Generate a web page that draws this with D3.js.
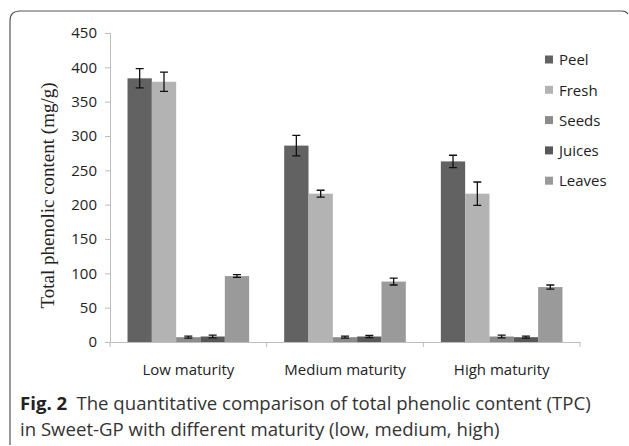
<!DOCTYPE html>
<html>
<head>
<meta charset="utf-8">
<script src="https://cdn.jsdelivr.net/npm/d3@7"></script>
<style>
  body { margin: 0; background: #fff; }
  svg { display: block; }
</style>
</head>
<body>
<svg width="629" height="446"></svg>
<script>
const categories = ["Low maturity", "Medium maturity", "High maturity"];
const seriesNames = ["Peel", "Fresh", "Seeds", "Juices", "Leaves"];
const peel = [384, 286, 263];
const fresh = [379, 216, 216];
const seeds = [7, 7, 8];
const juices = [8, 8, 7];
const leaves = [96, 88, 80];
const peelErr = [14, 15, 9];
const freshErr = [14, 5, 17];
const seedsErr = [1.5, 1.5, 2];
const juicesErr = [2, 1.5, 1.5];
const leavesErr = [2, 5, 3];
const yTicks = [0, 50, 100, 150, 200, 250, 300, 350, 400, 450];

const colors = ["#626262", "#b3b3b3", "#8b8b8b", "#585858", "#9a9a9a"];
const values = [peel, fresh, seeds, juices, leaves];
const errors = [peelErr, freshErr, seedsErr, juicesErr, leavesErr];

const svg = d3.select("svg");
const plotLeft = 110, plotRight = 580, plotTop = 33, plotBottom = 342;

// frame
svg.append("path")
  .attr("d", "M10,445 L10,21 Q10,11 20,11 L622,11 Q626,11 628,14")
  .attr("fill", "none")
  .attr("stroke", "#555")
  .attr("stroke-width", 1.2);

const x = d3.scaleBand().domain(categories).range([plotLeft, plotRight]);
const xInner = d3.scaleBand().domain(seriesNames)
  .range([0, x.bandwidth()]).paddingOuter(0.72).paddingInner(0);
const y = d3.scaleLinear().domain([0, 450]).range([plotBottom, plotTop]);

// y axis
const yAxis = svg.append("g")
  .attr("transform", `translate(${plotLeft},0)`)
  .call(d3.axisLeft(y).tickValues(yTicks).tickSize(5).tickPadding(8));
yAxis.select(".domain").attr("stroke", "#bdbdbd");
yAxis.selectAll(".tick line").attr("stroke", "#bdbdbd");
yAxis.selectAll("text")
  .attr("font-family", "Open Sans, sans-serif")
  .attr("font-size", 15)
  .attr("fill", "#222");

// x axis
const xAxis = svg.append("g")
  .attr("transform", `translate(0,${plotBottom})`)
  .call(d3.axisBottom(x).tickSize(0).tickPadding(22));
xAxis.select(".domain").attr("stroke", "#bdbdbd");
xAxis.selectAll("text")
  .attr("font-family", "Open Sans, sans-serif")
  .attr("font-size", 15)
  .attr("fill", "#222");
svg.append("g").selectAll("line")
  .data(categories.concat(["end"]))
  .join("line")
  .attr("x1", (d, i) => plotLeft + i * x.bandwidth())
  .attr("x2", (d, i) => plotLeft + i * x.bandwidth())
  .attr("y1", plotBottom)
  .attr("y2", plotBottom + 5)
  .attr("stroke", "#bdbdbd");

// bars
const groups = svg.append("g").selectAll("g")
  .data(categories)
  .join("g")
  .attr("transform", d => `translate(${x(d)},0)`);

seriesNames.forEach((s, si) => {
  groups.append("rect")
    .attr("x", xInner(s))
    .attr("width", xInner.bandwidth())
    .attr("y", (d, ci) => y(values[si][ci]))
    .attr("height", (d, ci) => plotBottom - y(values[si][ci]))
    .attr("fill", colors[si]);

  const cx = xInner(s) + xInner.bandwidth() / 2;
  groups.append("path")
    .attr("d", (d, ci) => {
      const hi = y(values[si][ci] + errors[si][ci]);
      const lo = y(values[si][ci] - errors[si][ci]);
      return `M${cx},${hi}L${cx},${lo}M${cx - 4},${hi}L${cx + 4},${hi}M${cx - 4},${lo}L${cx + 4},${lo}`;
    })
    .attr("fill", "none")
    .attr("stroke", "#111")
    .attr("stroke-width", 1.3);
});

// y title
svg.append("text")
  .attr("transform", `translate(54,${(plotTop + plotBottom) / 2 + 8}) rotate(-90)`)
  .attr("text-anchor", "middle")
  .attr("font-family", "Liberation Serif, serif")
  .attr("font-size", 19)
  .attr("fill", "#222")
  .text("Total phenolic content (mg/g)");

// legend
const legend = svg.append("g").selectAll("g")
  .data(seriesNames)
  .join("g")
  .attr("transform", (d, i) => `translate(545,${60 + i * 30.3})`);
legend.append("rect")
  .attr("x", 0).attr("y", -4.5)
  .attr("width", 8).attr("height", 8)
  .attr("fill", (d, i) => colors[i]);
legend.append("text")
  .attr("x", 14).attr("y", 0)
  .attr("dy", "0.35em")
  .attr("font-family", "Open Sans, sans-serif")
  .attr("font-size", 15)
  .attr("fill", "#222")
  .text(d => d);

// caption
const cap = svg.append("text")
  .attr("font-family", "Open Sans, sans-serif")
  .attr("font-size", 18.6)
  .attr("fill", "#333");
const line1 = cap.append("tspan").attr("x", 20).attr("y", 410);
line1.append("tspan").attr("font-weight", "bold").attr("fill", "#222").text("Fig. 2");
line1.append("tspan").text("\u2002The quantitative comparison of total phenolic content (TPC)");
cap.append("tspan").attr("x", 20).attr("y", 436)
  .text("in Sweet-GP with different maturity (low, medium, high)");
</script>
</body>
</html>
